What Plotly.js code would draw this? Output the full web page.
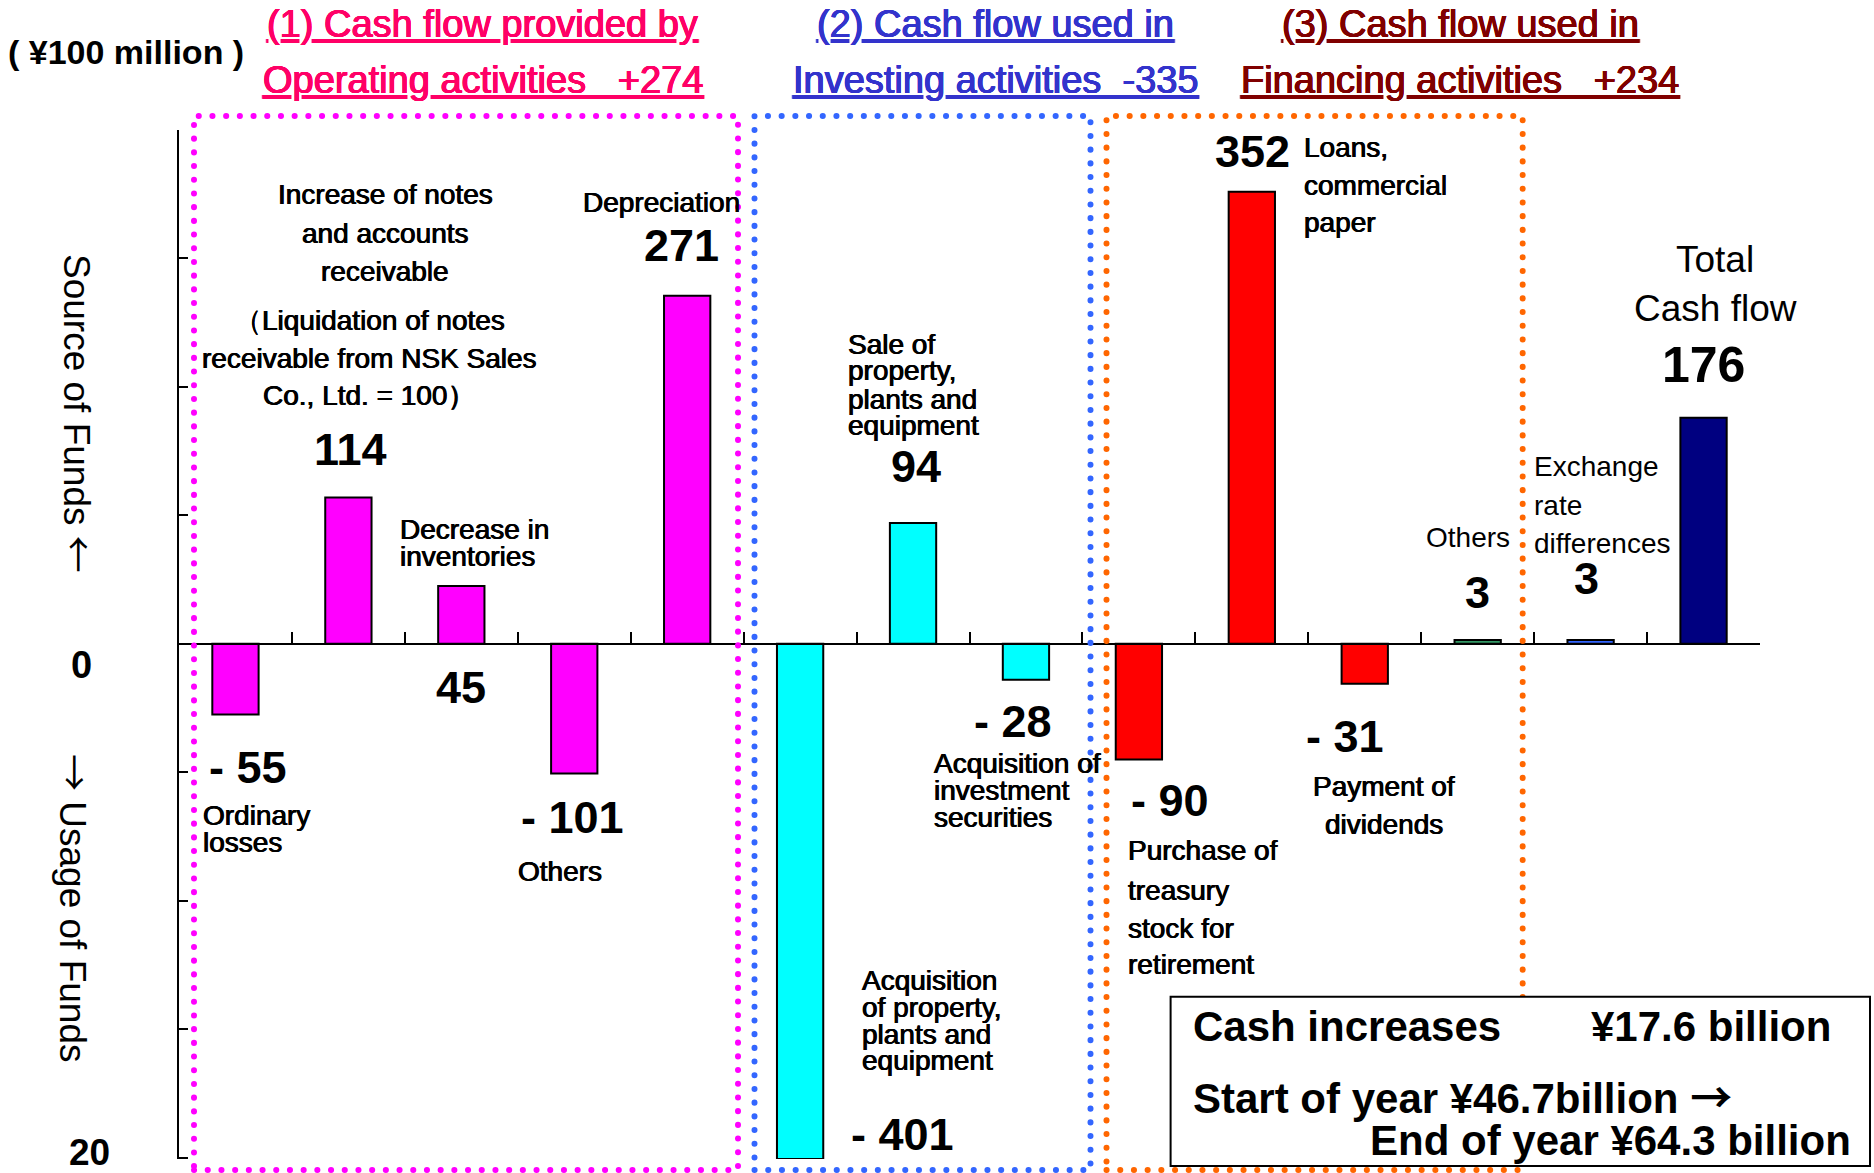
<!DOCTYPE html>
<html>
<head>
<meta charset="utf-8">
<script src="https://cdn.plot.ly/plotly-3.0.1.min.js"></script>
<style>
html,body{margin:0;padding:0;background:#fff;}
#chart{width:1874px;height:1173px;}
.shapelayer path{stroke-linecap:round;}
</style>
</head>
<body>
<div id="chart"></div>
<script>
// ---------------- DATA ----------------
const categories = [
  'Ordinary losses',
  'Increase of notes and accounts receivable',
  'Decrease in inventories',
  'Others (operating)',
  'Depreciation',
  'Acquisition of property, plants and equipment',
  'Sale of property, plants and equipment',
  'Acquisition of investment securities',
  'Purchase of treasury stock for retirement',
  'Loans, commercial paper',
  'Payment of dividends',
  'Others (financing)',
  'Exchange rate differences',
  'Total Cash flow'
];
const values = [-55, 114, 45, -101, 271, -401, 94, -28, -90, 352, -31, 3, 3, 176];
const activity = ['operating','operating','operating','operating','operating',
                  'investing','investing','investing',
                  'financing','financing','financing','financing',
                  'exchange','total'];
const labelLines = [
  ['Ordinary', 'losses'],
  ['Increase of notes', 'and accounts', 'receivable'],
  ['Decrease in', 'inventories'],
  ['Others'],
  ['Depreciation'],
  ['Acquisition', 'of property,', 'plants and', 'equipment'],
  ['Sale of', 'property,', 'plants and', 'equipment'],
  ['Acquisition of', 'investment', 'securities'],
  ['Purchase of', 'treasury', 'stock for', 'retirement'],
  ['Loans,', 'commercial', 'paper'],
  ['Payment of', 'dividends'],
  ['Others'],
  ['Exchange', 'rate', 'differences'],
  ['Total', 'Cash flow']
];
const noteLines = ['（Liquidation of notes', 'receivable from NSK Sales', 'Co., Ltd. = 100）'];
const sectionKeys = ['operating', 'investing', 'financing'];
const sectionTitles = ['(1) Cash flow provided by', '(2) Cash flow used in', '(3) Cash flow used in'];
const sectionNames = ['Operating activities', 'Investing activities', 'Financing activities'];
const unitLabel = '( ¥100 million )';
const axisTitles = ['Source of Funds', 'Usage of Funds'];
const tickLabels = ['0', '20'];
const summaryLines = ['Cash increases', '¥17.6 billion', 'Start of year ¥46.7billion', 'End of year ¥64.3 billion'];

// ---------------- STYLE / LAYOUT ----------------
const W = 1874, H = 1173;
const L = 179, R = 1760, T = 130, B = 1159;
const px = x => (x - L) / (R - L);
const py = y => (B - y) / (B - T);
const FONT = 'Liberation Sans, Arial, sans-serif';
const arrow = ch => '<span style="font-family:Noto Sans CJK JP">' + ch + '</span>';
const heavy = c => '0.45px 0 0 ' + c + ', -0.45px 0 0 ' + c;   // slightly heavier strokes, as in the reference

const fillByActivity = {operating:'#ff00ff', investing:'#00ffff', financing:'#ff0000', exchange:'#3366ff', total:'#000080'};
const fillOverride = {11:'#339966'};
const sectionColors = ['#ff0066', '#3333cc', '#800000'];
const sectionBoxColors = ['#ff00ff', '#3366ff', '#ff6600'];

const barFill = categories.map((c, i) => fillOverride[i] || fillByActivity[activity[i]]);

const labelPos = [
  {x:201,    ys:[815, 842], a:'left', heavy:true},
  {x:385,    ys:[194, 233, 271.5], a:'center', heavy:true},
  {x:397.5,  ys:[529.5, 556], a:'left', heavy:true},
  {x:559.5,  ys:[871], a:'center', heavy:true},
  {x:661,    ys:[202], a:'center', heavy:true},
  {x:859.7,  ys:[980, 1007, 1034, 1060], a:'left', heavy:true},
  {x:845.7,  ys:[344.7, 370, 399, 425.7], a:'left', heavy:true},
  {x:931.5,  ys:[763.5, 791, 817.5], a:'left', heavy:true},
  {x:1126.3, ys:[850, 890, 928.5, 964.5], a:'left', heavy:true},
  {x:1302,   ys:[147, 185.7, 222.8], a:'left', heavy:true},
  {x:1384,   ys:[786.6, 824.6], a:'center', heavy:true},
  {x:1468,   ys:[537.5], a:'center'},
  {x:1532.3, ys:[466, 505.4, 543.6], a:'left'},
  {x:1715,   ys:[259, 308.8], a:'center', size:37}
];
const notePos = {x:369, ys:[320.3, 358.5, 395.6]};
const valuePos = [[247.7,767.6],[350,449],[461,687],[572,818],[681,245],[902.4,1134],[916,466.6],
                  [1012.6,721.5],[1170,800.8],[1252.6,151],[1344.6,736],[1477,592],[1586,578.5],[1703.3,365.3]];
const valueSize = [45,45,45,45,45,45,45,45,45,45,45,45,45,50];
const headerX = [482.5, 995.5, 1460];
const headerY = [24, 80];
const headerGaps = [3, 2, 3];
const boxesPx = [[194,738],[754.5,1090.5],[1106.5,1522.7]];
const boxTop = 116, boxBottom = 1170;

function ann(text, x, y, o) {
  o = o || {};
  const color = o.color || '#000';
  return {
    xref:'paper', yref:'paper', x:px(x), y:py(y), text:text, showarrow:false,
    xanchor:o.xa || 'center', yanchor:'middle', textangle:o.angle || 0,
    font:{family:FONT, size:o.size || 28, color:color, weight:o.bold ? 'bold' : 'normal',
          shadow:o.heavy ? heavy(color) : 'none'}
  };
}

const annotations = [];
// category labels
labelLines.forEach((lines, i) => {
  const p = labelPos[i];
  lines.forEach((t, k) => annotations.push(ann(t, p.x, p.ys[k], {xa:p.a, size:p.size || 28, heavy:p.heavy})));
});
noteLines.forEach((t, k) => annotations.push(ann(t, notePos.x, notePos.ys[k], {size:28, heavy:true})));
// value labels
const fmtVal = v => v < 0 ? '- ' + (-v) : String(v);
values.forEach((v, i) => annotations.push(ann(fmtVal(v), valuePos[i][0], valuePos[i][1], {bold:true, size:valueSize[i]})));
// section headers with computed subtotals
const fmtSigned = v => v >= 0 ? '+' + v : '-' + (-v);
sectionKeys.forEach((k, s) => {
  const sum = values.reduce((a, v, i) => activity[i] === k ? a + v : a, 0);
  const gap = '\u00a0'.repeat(headerGaps[s]);
  annotations.push(ann('<u>' + sectionTitles[s] + '</u>', headerX[s], headerY[0], {size:38, color:sectionColors[s], heavy:true}));
  annotations.push(ann('<u>' + sectionNames[s] + gap + fmtSigned(sum) + '</u>', headerX[s], headerY[1], {size:38, color:sectionColors[s], heavy:true}));
});
// unit
annotations.push(ann(unitLabel, 6, 52.5, {xa:'left', bold:true, size:34}));
// axis titles (rotated)
annotations.push(ann(axisTitles[0] + '\u00a0' + arrow('←'), 80, 413, {angle:90, size:37}));
annotations.push(ann(arrow('→') + '\u00a0' + axisTitles[1], 76, 908, {angle:90, size:37}));
// odd tick labels
annotations.push(ann(tickLabels[0], 81, 665, {bold:true, size:38}));
annotations.push(ann(tickLabels[1], 89.7, 1152, {bold:true, size:37}));
// summary box text
annotations.push(ann(summaryLines[0], 1191.3, 1026, {xa:'left', bold:true, size:42}));
annotations.push(ann(summaryLines[1], 1588.6, 1026, {xa:'left', bold:true, size:42}));
annotations.push(ann(summaryLines[2] + ' ' + arrow('→'), 1191.3, 1094, {xa:'left', bold:true, size:42}));
annotations.push(ann(summaryLines[3], 1852.7, 1140, {xa:'right', bold:true, size:42}));

// shapes: dotted section boxes + summary box
const shapes = boxesPx.map((b, s) => ({
  type:'rect', xref:'paper', yref:'paper', layer:'above',
  x0:px(b[0]), x1:px(b[1]), y0:py(boxBottom), y1:py(boxTop),
  line:{color:sectionBoxColors[s], width:6, dash:'0.1px,13.6px'}, fillcolor:'rgba(0,0,0,0)'
}));
shapes.push({type:'rect', xref:'paper', yref:'paper', layer:'above',
  x0:px(1170.6), x1:px(1870), y0:py(1166), y1:py(996.7),
  line:{color:'#000', width:2}, fillcolor:'#ffffff'});

const trace = {
  type:'bar', x:categories, y:values, width:0.41,
  marker:{color:barFill, line:{color:'#000', width:2}},
  hoverinfo:'skip', textposition:'none'
};

const tickv = [];
for (let v = -400; v <= 400; v += 100) tickv.push(v);

const layout = {
  width:W, height:H, autosize:false,
  margin:{l:L, r:W - R, t:T, b:H - B, pad:0},
  paper_bgcolor:'#fff', plot_bgcolor:'rgba(0,0,0,0)',
  showlegend:false,
  xaxis:{type:'category', categoryorder:'array', categoryarray:categories, range:[-0.5, 13.5],
         anchor:'free', position:401/801, showline:true, linecolor:'#000', linewidth:2,
         ticks:'inside', tickson:'boundaries', ticklen:11, tickwidth:2, tickcolor:'#000',
         showticklabels:false, showgrid:false, zeroline:false, fixedrange:true},
  yaxis:{range:[-401, 400], showline:true, linecolor:'#000', linewidth:2,
         ticks:'inside', tickmode:'array', tickvals:tickv, ticklen:9, tickwidth:2, tickcolor:'#000',
         showticklabels:false, showgrid:false, zeroline:false, fixedrange:true},
  annotations:annotations,
  shapes:shapes
};

Plotly.newPlot('chart', [trace], layout, {staticPlot:true, displayModeBar:false});
</script>
</body>
</html>
